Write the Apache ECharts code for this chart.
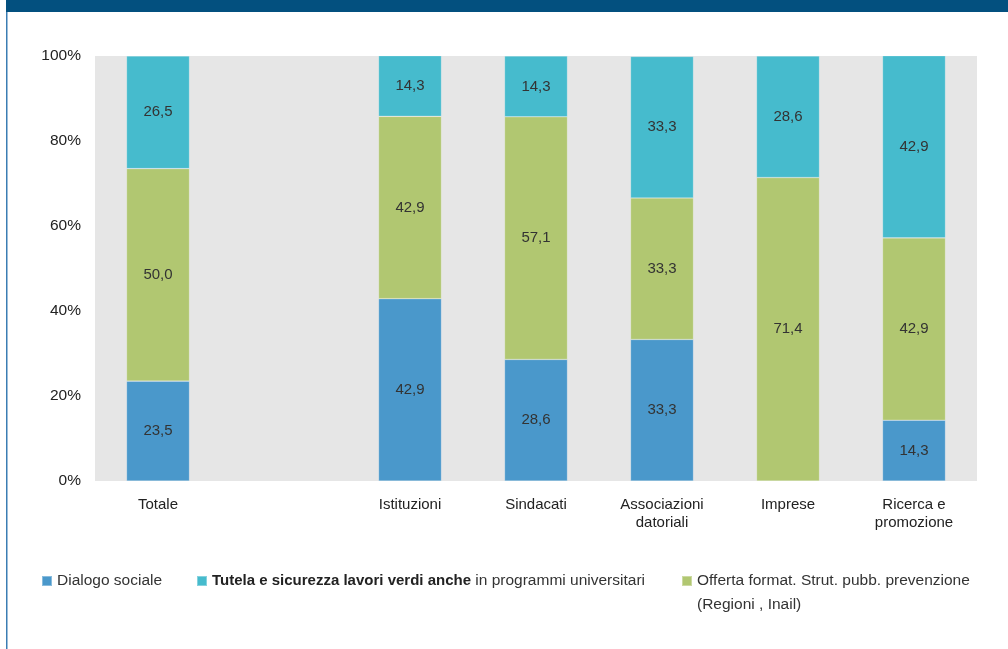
<!DOCTYPE html>
<html>
<head>
<meta charset="utf-8">
<script src="https://cdn.jsdelivr.net/npm/echarts@6/dist/echarts.min.js"></script>
<style>
html,body{margin:0;padding:0;background:#fff;}
#chart{width:1008px;height:649px;}
</style>
</head>
<body>
<div id="chart"></div>
<script>
var categories = ['Totale', '', 'Istituzioni', 'Sindacati', 'Associazioni\ndatoriali', 'Imprese', 'Ricerca e\npromozione'];
var seriesNames = [
  'Dialogo sociale',
  'Offerta format. Strut. pubb. prevenzione (Regioni , Inail)',
  'Tutela e sicurezza lavori verdi anche in programmi universitari'
];
var dialogo = [23.5, null, 42.9, 28.6, 33.3, 0, 14.3];
var offerta = [50.0, null, 42.9, 57.1, 33.3, 71.4, 42.9];
var tutela = [26.5, null, 14.3, 14.3, 33.3, 28.6, 42.9];
var yTicks = [0, 20, 40, 60, 80, 100];
var colors = ['#4A98CB', '#B1C771', '#46BBCD'];

var FONT = '"Liberation Sans", Arial, sans-serif';
var chart = echarts.init(document.getElementById('chart'));

function labelFmt(p) {
  if (p.value === null || p.value === 0) return '';
  return p.value.toFixed(1).replace('.', ',');
}

function mkSeries(name, data, color) {
  return {
    name: name,
    type: 'bar',
    stack: 'tot',
    data: data,
    barWidth: '50%',
    itemStyle: { color: color, borderColor: 'rgba(255,255,255,0.35)', borderWidth: 0.6 },
    label: {
      show: true,
      position: 'inside',
      formatter: labelFmt,
      color: '#333',
      fontFamily: FONT,
      fontSize: 15
    }
  };
}

var legendBase = {
  orient: 'horizontal',
  itemWidth: 10,
  itemHeight: 10,
  icon: 'rect',
  top: 573,
  padding: 0,
  selectedMode: false,
  textStyle: { color: '#333', fontFamily: FONT, fontSize: 15.5 }
};

chart.setOption({
  backgroundColor: '#fff',
  animation: false,
  color: colors,
  grid: {
    left: 95, right: 31, top: 56, bottom: 168,
    show: true, backgroundColor: '#E6E6E6', borderWidth: 0,
    containLabel: false
  },
  graphic: [
    { type: 'rect', shape: { x: 6, y: 0, width: 1002, height: 12 }, style: { fill: '#03507F' }, silent: true },
    { type: 'rect', shape: { x: 6, y: 12, width: 1.5, height: 637 }, style: { fill: '#3B7DB3' }, silent: true },
    { type: 'text', left: 697, top: 597, style: { text: '(Regioni , Inail)', fill: '#333', font: '15.5px "Liberation Sans", Arial, sans-serif' }, silent: true }
  ],
  legend: [
    Object.assign({}, legendBase, { left: 41, data: [seriesNames[0]] }),
    Object.assign({}, legendBase, {
      left: 196, data: [seriesNames[2]],
      formatter: function () { return '{b|Tutela e sicurezza lavori verdi anche} in programmi universitari'; },
      textStyle: {
        color: '#333', fontFamily: FONT, fontSize: 15.5,
        rich: { b: { fontWeight: 'bold', color: '#222', fontFamily: FONT, fontSize: 15 } }
      }
    }),
    Object.assign({}, legendBase, {
      left: 681, data: [seriesNames[1]],
      formatter: function () { return 'Offerta format. Strut. pubb. prevenzione'; }
    })
  ],
  xAxis: {
    type: 'category',
    data: categories,
    axisLine: { show: false },
    axisTick: { show: false },
    axisLabel: {
      color: '#222', fontFamily: FONT, fontSize: 15, margin: 15,
      lineHeight: 18, interval: 0
    }
  },
  yAxis: {
    type: 'value',
    min: 0, max: 100, interval: 20,
    splitLine: { show: false },
    axisLine: { show: false },
    axisTick: { show: false },
    axisLabel: {
      color: '#222', fontFamily: FONT, fontSize: 15.5, margin: 14,
      formatter: function (v) { return yTicks.indexOf(v) >= 0 ? v + '%' : ''; }
    }
  },
  series: [
    mkSeries(seriesNames[0], dialogo, colors[0]),
    mkSeries(seriesNames[1], offerta, colors[1]),
    mkSeries(seriesNames[2], tutela, colors[2])
  ]
});
</script>
</body>
</html>
